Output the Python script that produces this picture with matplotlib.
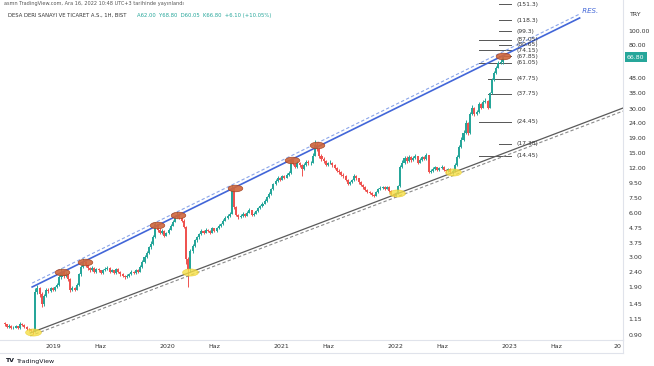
import numpy as np
import pandas as pd
import matplotlib
matplotlib.use("Agg")
import matplotlib.pyplot as plt
import matplotlib.dates as mdates
from matplotlib.path import Path
from matplotlib.lines import Line2D
import matplotlib.transforms as mtrans

# ---------------- data (weekly candles) ----------------
first_open = 1.08
closes = [
    1.06, 1.02, 1.04, 1.00, 1.01, 1.03, 1.00, 1.07, 1.05, 1.02,
    0.99, 0.98, 0.96, 0.95, 1.75, 1.85, 1.70, 1.45, 1.65, 1.80,
    1.78, 1.85, 1.82, 1.88, 1.95, 2.20, 2.40, 2.25, 2.30, 2.15,
    1.80, 1.85, 1.82, 1.95, 2.30, 2.60, 2.80, 2.65, 2.55, 2.45,
    2.55, 2.40, 2.50, 2.45, 2.35, 2.45, 2.50, 2.55, 2.40, 2.45,
    2.35, 2.50, 2.40, 2.30, 2.25, 2.20, 2.25, 2.30, 2.40, 2.35,
    2.45, 2.40, 2.60, 2.80, 3.00, 3.20, 3.50, 3.70, 4.10, 5.00,
    4.60, 4.40, 4.50, 4.20, 4.35, 4.60, 4.90, 5.20, 5.60, 5.80,
    5.50, 5.30, 4.80, 2.90, 2.50, 3.30, 3.60, 3.90, 4.10, 4.30,
    4.50, 4.40, 4.60, 4.50, 4.40, 4.70, 4.50, 4.70, 4.90, 5.00,
    5.30, 5.50, 5.70, 5.90, 8.80, 6.50, 5.80, 5.60, 5.70, 5.90,
    5.70, 6.00, 6.20, 5.80, 5.90, 6.10, 6.40, 6.60, 6.90, 7.20,
    7.60, 8.00, 8.60, 9.30, 9.80, 10.2, 10.0, 10.5, 10.3, 10.8,
    11.0, 13.5, 12.8, 12.2, 13.0, 12.5, 11.8, 12.6, 13.2, 12.9,
    13.0, 14.5, 17.0, 16.0, 14.5, 13.8, 13.3, 12.6, 12.9, 13.0,
    12.5, 12.0, 11.5, 11.2, 10.8, 10.5, 10.0, 9.40, 9.60, 9.90,
    10.6, 10.2, 9.60, 9.20, 8.90, 8.50, 8.30, 8.10, 7.90, 7.80,
    8.20, 8.60, 8.80, 8.90, 8.70, 8.90, 8.40, 8.00, 7.80, 8.10,
    9.00, 12.2, 13.0, 14.0, 13.3, 14.2, 13.5, 13.9, 14.3, 13.0,
    13.6, 14.1, 13.8, 14.6, 11.3, 11.5, 11.8, 12.1, 11.6, 11.9,
    12.2, 11.6, 11.4, 11.8, 11.2, 11.5, 12.6, 14.2, 16.5, 18.5,
    20.6, 24.0, 20.5, 27.5, 30.5, 27.5, 28.5, 32.5, 30.5, 33.5,
    34.0, 30.5, 38.0, 46.5, 52.0, 56.5, 60.5, 62.0, 66.8,
]
highs = [
    1.10, 1.07, 1.06, 1.05, 1.03, 1.05, 1.04, 1.10, 1.09, 1.06,
    1.03, 1.01, 0.99, 0.98, 1.85, 1.95, 1.88, 1.74, 1.70, 1.85,
    1.86, 1.90, 1.90, 1.93, 2.00, 2.28, 2.55, 2.45, 2.38, 2.33,
    2.18, 1.92, 1.90, 2.00, 2.35, 2.68, 2.95, 2.85, 2.70, 2.60,
    2.62, 2.58, 2.55, 2.56, 2.48, 2.52, 2.58, 2.62, 2.58, 2.52,
    2.48, 2.56, 2.53, 2.43, 2.35, 2.28, 2.30, 2.35, 2.46, 2.44,
    2.50, 2.50, 2.65, 2.88, 3.10, 3.30, 3.60, 3.85, 4.25, 5.20,
    5.05, 4.70, 4.62, 4.55, 4.45, 4.70, 5.00, 5.35, 5.75, 6.10,
    5.90, 5.60, 5.40, 4.85, 3.00, 3.40, 3.70, 4.00, 4.20, 4.40,
    4.62, 4.58, 4.70, 4.68, 4.55, 4.78, 4.75, 4.80, 5.00, 5.10,
    5.40, 5.65, 5.85, 6.05, 9.20, 8.90, 6.60, 5.90, 5.85, 6.05,
    6.00, 6.15, 6.40, 6.25, 6.05, 6.25, 6.55, 6.75, 7.05, 7.40,
    7.80, 8.20, 8.80, 9.50, 10.1, 10.5, 10.4, 10.8, 10.7, 11.1,
    11.4, 14.0, 13.8, 13.0, 13.4, 13.2, 12.7, 12.9, 13.6, 13.5,
    13.4, 15.0, 18.5, 17.5, 16.3, 14.8, 14.1, 13.5, 13.2, 13.5,
    13.2, 12.7, 12.2, 11.7, 11.4, 11.0, 10.7, 10.1, 9.80, 10.1,
    10.9, 10.8, 10.3, 9.75, 9.35, 9.00, 8.65, 8.40, 8.20, 8.05,
    8.35, 8.75, 9.00, 9.10, 9.00, 9.10, 9.00, 8.50, 8.10, 8.25,
    9.20, 12.6, 13.5, 14.5, 14.3, 14.6, 14.4, 14.3, 14.8, 14.5,
    13.9, 14.5, 14.4, 15.2, 14.7, 11.8, 12.1, 12.4, 12.2, 12.2,
    12.5, 12.3, 11.8, 12.0, 11.9, 11.8, 12.9, 14.6, 17.0, 19.2,
    21.5, 25.0, 24.5, 28.5, 32.0, 31.0, 29.5, 33.5, 33.0, 34.5,
    35.5, 34.5, 39.0, 48.0, 54.0, 58.5, 62.5, 64.5, 68.8,
]
lows = [
    1.04, 1.00, 1.01, 0.99, 0.98, 1.00, 0.98, 0.99, 1.03, 1.00,
    0.97, 0.96, 0.94, 0.92, 0.94, 1.70, 1.62, 1.38, 1.42, 1.62,
    1.72, 1.75, 1.77, 1.79, 1.85, 1.93, 2.15, 2.18, 2.20, 2.08,
    1.75, 1.77, 1.78, 1.80, 1.92, 2.25, 2.55, 2.58, 2.48, 2.40,
    2.42, 2.35, 2.36, 2.40, 2.30, 2.32, 2.42, 2.47, 2.35, 2.37,
    2.30, 2.32, 2.35, 2.25, 2.20, 2.15, 2.17, 2.21, 2.27, 2.30,
    2.32, 2.35, 2.38, 2.55, 2.75, 2.95, 3.15, 3.42, 3.65, 4.05,
    4.45, 4.30, 4.32, 4.12, 4.15, 4.30, 4.55, 4.85, 5.15, 5.50,
    5.40, 5.20, 4.70, 2.70, 1.90, 2.40, 3.20, 3.50, 3.80, 4.00,
    4.22, 4.30, 4.35, 4.42, 4.30, 4.35, 4.42, 4.45, 4.65, 4.82,
    4.95, 5.25, 5.40, 5.60, 5.85, 6.30, 5.65, 5.45, 5.50, 5.62,
    5.60, 5.65, 5.95, 5.70, 5.72, 5.85, 6.05, 6.30, 6.50, 6.80,
    7.10, 7.50, 7.90, 8.50, 9.20, 9.70, 9.80, 9.90, 10.1, 10.2,
    10.6, 10.9, 12.5, 11.9, 12.0, 12.2, 10.5, 11.6, 12.4, 12.6,
    12.6, 12.9, 14.3, 15.5, 14.0, 13.4, 13.0, 12.3, 12.4, 12.7,
    12.2, 11.7, 11.2, 10.9, 10.5, 10.2, 9.80, 9.20, 9.25, 9.50,
    9.80, 10.0, 9.40, 9.00, 8.70, 8.35, 8.15, 7.95, 7.75, 7.65,
    7.70, 8.10, 8.50, 8.70, 8.55, 8.60, 8.30, 7.85, 7.60, 7.70,
    8.00, 8.90, 12.0, 12.8, 13.0, 13.1, 13.2, 13.3, 13.7, 12.8,
    12.9, 13.4, 13.5, 13.6, 11.0, 11.0, 11.3, 11.6, 11.4, 11.4,
    11.7, 11.4, 11.1, 11.2, 10.9, 10.9, 11.3, 12.4, 14.0, 16.2,
    18.2, 20.3, 19.8, 20.2, 27.0, 26.8, 27.0, 28.2, 30.0, 30.2,
    33.0, 30.0, 30.2, 37.5, 46.0, 51.5, 56.0, 59.5, 60.05,
]
last_date = "2022-12-12"

# trend lines (resistance / support) and their dashed twins
res_dates = ["2018-10-26", "2023-08-15"]
res_prices = [1.893, 122.3]
res_dash_prices = [2.01, 130.0]
sup_dates = ["2018-10-20", "2024-01-01"]
sup_prices = [0.928, 30.3]
sup_dash_prices = [0.887, 28.9]

# touch marks
res_touch_dates = ["2019-01-30", "2019-04-14", "2019-11-29", "2020-02-05",
                   "2020-08-06", "2021-02-04", "2021-04-26", "2022-12-12"]
res_touch_prices = [2.38, 2.79, 4.97, 5.77, 8.77, 13.6, 17.1, 67.9]
sup_touch_dates = ["2018-10-28", "2020-03-15", "2022-01-07", "2022-07-05"]
sup_touch_prices = [0.94, 2.39, 8.12, 11.3]

# horizontal target levels
level_values = [151.3, 118.3, 99.3, 87.05, 80.65, 74.15, 67.85, 61.05,
                47.75, 37.75, 24.45, 17.38, 14.45]
level_labels = ["(151.3)", "(118.3)", "(99.3)", "(87.05)", "(80.65)", "(74.15)",
                "(67.85)", "(61.05)", "(47.75)", "(37.75)", "(24.45)", "(17.38)",
                "(14.45)"]
level_starts = ["2022-12-01", "2022-12-01", "2022-12-01", "2022-09-28", "2022-12-01",
                "2022-09-28", "2022-12-01", "2022-09-28", "2022-10-25", "2022-10-25",
                "2022-09-28", "2022-12-01", "2022-09-28"]
level_end = "2023-01-06"
level_label_x = "2023-01-24"

y_ticks = [100, 80, 48, 38, 30, 24, 19, 15, 12, 9.5, 7.5, 6.0, 4.75, 3.75,
           3.0, 2.4, 1.9, 1.45, 1.15, 0.90]
x_tick_dates = ["2019-01-01", "2019-06-01", "2020-01-01", "2020-06-01",
                "2021-01-01", "2021-06-01", "2022-01-01", "2022-06-01",
                "2023-01-01", "2023-06-01"]
x_tick_labels = ["2019", "Haz", "2020", "Haz", "2021", "Haz", "2022", "Haz",
                 "2023", "Haz"]

# ---------------- figure ----------------
W, H = 654, 366
fig = plt.figure(figsize=(W / 100, H / 100), dpi=100)
fig.patch.set_facecolor("white")
ax = fig.add_axes([0, 26 / H, 623 / W, 340 / H])
ax.set_facecolor("white")
ax.set_yscale("log")
ax.set_ylim(0.8325, 161.6)
ax.set_xlim(mdates.date2num(pd.Timestamp("2018-07-15")),
            mdates.date2num(pd.Timestamp("2024-01-01")))

dates = pd.date_range(end=last_date, periods=len(closes), freq="7D")
xd = mdates.date2num(dates)
opens = [first_open] + closes[:-1]
up_c, dn_c = "#26a69a", "#ef5350"
cols = [up_c if c >= o else dn_c for o, c in zip(opens, closes)]
bottoms = [min(o, c) for o, c in zip(opens, closes)]
heights = [max(abs(c - o), 0.001) for o, c in zip(opens, closes)]
ax.vlines(xd, lows, highs, colors=cols, linewidth=0.7, zorder=3)
ax.bar(xd, heights, bottom=bottoms, width=6.5, color=cols, linewidth=0, zorder=3)

# trend lines
rd = mdates.date2num(pd.to_datetime(res_dates))
sd = mdates.date2num(pd.to_datetime(sup_dates))
ax.plot(rd, res_prices, color="#4266d8", lw=1.2, zorder=4)
ax.plot(rd, res_dash_prices, color="#8aa5ea", lw=0.8, ls=(0, (3, 2)), zorder=4)
ax.plot(sd, sup_prices, color="#5a5a5a", lw=0.9, zorder=4)
ax.plot(sd, sup_dash_prices, color="#8a8a8a", lw=0.8, ls=(0, (3, 2)), zorder=4)
ax.text(rd[1], res_dash_prices[1], " RES.", color="#4266d8", fontsize=5,
        style="italic", ha="left", va="bottom", zorder=5)

# touch ellipses
th = np.linspace(0, 2 * np.pi, 60)
ell = Path(np.c_[np.cos(th), 0.45 * np.sin(th)], closed=True)
ax.scatter(mdates.date2num(pd.to_datetime(sup_touch_dates)), sup_touch_prices,
           marker=ell, s=130, facecolor="#f6df45", edgecolor="#e8c820",
           linewidth=0.4, alpha=0.8, zorder=5)
ax.scatter(mdates.date2num(pd.to_datetime(res_touch_dates)), res_touch_prices,
           marker=ell, s=110, facecolor="#d0663c", edgecolor="#a13e1c",
           linewidth=0.5, alpha=0.9, zorder=6)

# levels
le = mdates.date2num(pd.Timestamp(level_end))
lx = mdates.date2num(pd.Timestamp(level_label_x))
for v, lab, st in zip(level_values, level_labels, level_starts):
    ax.plot([mdates.date2num(pd.Timestamp(st)), le], [v, v], color="#555555",
            lw=0.7, zorder=2)
    ax.text(lx, v, lab, fontsize=4.3, color="#333333", ha="left", va="center",
            zorder=5, clip_on=True)

# axes styling
for s in ["top", "left"]:
    ax.spines[s].set_visible(False)
for s in ["bottom", "right"]:
    ax.spines[s].set_color("#e0e3eb")
    ax.spines[s].set_linewidth(0.8)
ax.yaxis.tick_right()
ax.yaxis.set_major_locator(matplotlib.ticker.FixedLocator(y_ticks))
ax.yaxis.set_minor_locator(matplotlib.ticker.NullLocator())
ax.set_yticklabels([f"{v:.2f}" for v in y_ticks])
ax.tick_params(axis="y", length=0, pad=4, labelsize=4.5, labelcolor="#333333")
ax.set_xticks(mdates.date2num(pd.to_datetime(x_tick_dates)))
ax.set_xticklabels(x_tick_labels)
ax.tick_params(axis="x", length=0, pad=3, labelsize=4.5, labelcolor="#333333")
ax.xaxis.set_minor_locator(matplotlib.ticker.NullLocator())
ax.text(0.998, -6 / 340, "20", transform=ax.transAxes, fontsize=4.5,
        color="#333333", ha="right", va="center", clip_on=False)

# last price tag
tr = mtrans.blended_transform_factory(ax.transAxes, ax.transData)
ax.text(1 + 4 / 623, closes[-1], f"{closes[-1]:.2f}", transform=tr, fontsize=4.5,
        color="white", ha="left", va="center", clip_on=False, zorder=7,
        bbox=dict(boxstyle="square,pad=0.35", facecolor="#26a69a", edgecolor="none"))
fig.text(636 / W, 1 - 15 / H, "TRY", fontsize=4.5, color="#333333",
         ha="center", va="center")

# frame lines
fig.add_artist(Line2D([0, 623 / W], [13 / H, 13 / H], color="#e0e3eb", lw=0.8))
fig.add_artist(Line2D([623 / W, 623 / W], [13 / H, 26 / H], color="#e0e3eb", lw=0.8))

# header
fig.text(4 / W, 1 - 4 / H,
         "asmn TradingView.com, Ara 16, 2022 10:48 UTC+3 tarihinde yayınlandı",
         fontsize=3.6, color="#555555", ha="left", va="center")
fig.text(8 / W, 1 - 15 / H, "DESA DERI SANAYI VE TICARET A.S., 1H, BIST",
         fontsize=3.8, color="#333333", ha="left", va="center")
fig.text(137 / W, 1 - 15 / H, "A62.00  Y68.80  D60.05  K66.80  +6.10 (+10.05%)",
         fontsize=3.8, color="#26a69a", ha="left", va="center")

# footer
fig.text(5 / W, 1 - 361 / H, "TV", fontsize=4.5, fontweight="bold",
         color="#131722", ha="left", va="center")
fig.text(17 / W, 1 - 361 / H, "TradingView", fontsize=4.5, color="#131722",
         ha="left", va="center")

fig.savefig("out.png", dpi=100, facecolor="white")
